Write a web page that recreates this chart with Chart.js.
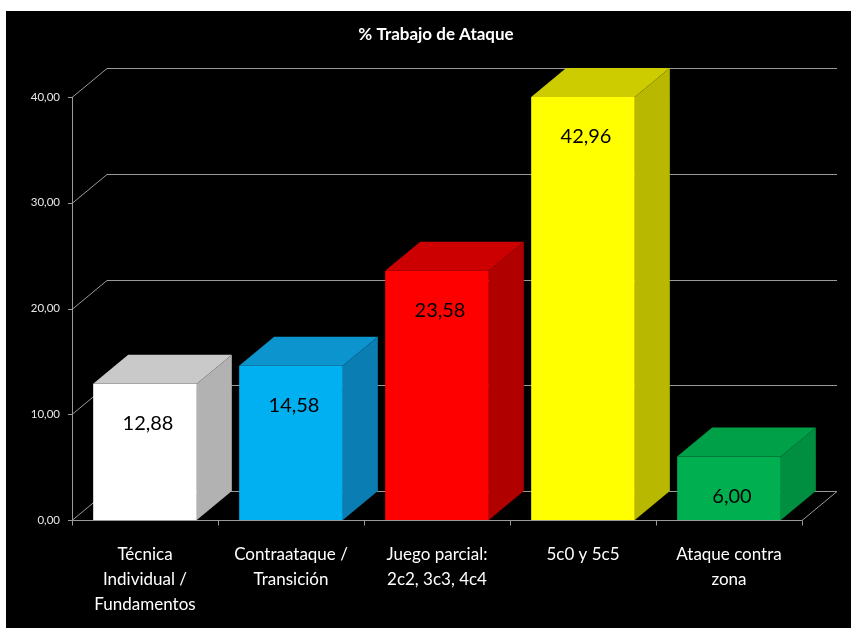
<!DOCTYPE html>
<html>
<head>
<meta charset="utf-8">
<script src="https://cdn.jsdelivr.net/npm/chart.js@4"></script>
<style>
  body { margin: 0; background: #fff; }
  #wrap { position: absolute; left: 6px; top: 11px; width: 845px; height: 617px; background: #000; }
</style>
</head>
<body>
<div id="wrap"><canvas id="chart" width="845" height="617"></canvas></div>
<script>
const categories = [
    ['Técnica', 'Individual /', 'Fundamentos'],
    ['Contraataque /', 'Transición'],
    ['Juego parcial:', '2c2, 3c3, 4c4'],
    '5c0 y 5c5',
    ['Ataque contra', 'zona']
];
const values = [12.88, 14.58, 23.58, 42.96, 6.00];
const frontColors = ['#ffffff', '#00b0f0', '#ff0000', '#ffff00', '#00b050'];
const topColors = ['#c9c9c9', '#0c94cf', '#cc0000', '#cccc00', '#00a048'];
const sideColors = ['#b2b2b2', '#0a7eb2', '#b00000', '#b8b800', '#008f40'];
const yTicks = [0, 10, 20, 30, 40];

const DX = 35, DY = -29; // depth of the fake 3D
const fmt = v => v.toFixed(2).replace('.', ',');

// back wall, left wall and floor lines
const wallPlugin = {
    id: 'walls',
    beforeDatasetsDraw(chart) {
        const ctx = chart.ctx;
        const area = chart.chartArea;
        const y = chart.scales.y;
        ctx.save();
        ctx.strokeStyle = '#9a9a9a';
        ctx.lineWidth = 1;
        yTicks.forEach(t => {
            const py = Math.round(y.getPixelForValue(t)) + 0.5;
            ctx.beginPath();
            ctx.moveTo(area.left - 4, py);
            ctx.lineTo(area.left, py);
            ctx.lineTo(area.left + DX, py + DY);
            ctx.lineTo(area.right + DX, py + DY);
            ctx.stroke();
        });
        // axis line
        ctx.beginPath();
        ctx.moveTo(area.left + 0.5, area.top);
        ctx.lineTo(area.left + 0.5, area.bottom);
        ctx.stroke();
        // floor front edge + right edge
        const by = Math.round(area.bottom) + 0.5;
        ctx.beginPath();
        ctx.moveTo(area.left, by);
        ctx.lineTo(area.right, by);
        ctx.lineTo(area.right + DX, by + DY);
        ctx.stroke();
        // category tick marks
        const step = (area.right - area.left) / categories.length;
        for (let i = 0; i <= categories.length; i++) {
            const px = Math.round(area.left + i * step) + 0.5;
            ctx.beginPath();
            ctx.moveTo(px, by);
            ctx.lineTo(px, by + 5);
            ctx.stroke();
        }
        ctx.restore();
    },
    afterDatasetsDraw(chart) {
        const ctx = chart.ctx;
        const area = chart.chartArea;
        const meta = chart.getDatasetMeta(0);
        ctx.save();
        meta.data.forEach((bar, i) => {
            const half = bar.width / 2;
            const l = bar.x - half, r = bar.x + half;
            const t = Math.max(bar.y, area.top);
            const b = bar.base;
            // top face
            ctx.fillStyle = topColors[i];
            ctx.beginPath();
            ctx.moveTo(l, t);
            ctx.lineTo(l + DX, t + DY);
            ctx.lineTo(r + DX, t + DY);
            ctx.lineTo(r, t);
            ctx.closePath();
            ctx.fill();
            // side face
            ctx.fillStyle = sideColors[i];
            ctx.beginPath();
            ctx.moveTo(r, t);
            ctx.lineTo(r + DX, t + DY);
            ctx.lineTo(r + DX, b + DY);
            ctx.lineTo(r, b);
            ctx.closePath();
            ctx.fill();
            // value label
            ctx.fillStyle = '#000';
            ctx.font = '20px Lato';
            ctx.textAlign = 'center';
            ctx.textBaseline = 'middle';
            ctx.fillText(fmt(values[i]), bar.x + 3, t + 40);
        });
        // title
        ctx.fillStyle = '#fff';
        ctx.font = 'bold 17px Lato';
        ctx.textAlign = 'center';
        ctx.textBaseline = 'middle';
        ctx.fillText('% Trabajo de Ataque', 430, 24);
        ctx.restore();
    }
};

new Chart(document.getElementById('chart'), {
    type: 'bar',
    data: {
        labels: categories,
        datasets: [{
            data: values,
            backgroundColor: frontColors,
            borderWidth: 0,
            barPercentage: 0.71,
            categoryPercentage: 1
        }]
    },
    options: {
        responsive: false,
        animation: false,
        layout: { padding: { top: 86, right: 49, left: 0, bottom: 0 } },
        plugins: { legend: { display: false }, tooltip: { enabled: false } },
        scales: {
            x: {
                grid: { display: false, drawTicks: false },
                border: { display: false },
                ticks: {
                    color: '#fff',
                    padding: 22,
                    maxRotation: 0,
                    autoSkip: false,
                    font: { family: 'Lato', size: 17, lineHeight: 1.47 }
                },
                afterFit: s => { s.height = 108; }
            },
            y: {
                min: 0,
                max: 40,
                grid: { display: false, drawTicks: false },
                border: { display: false },
                afterBuildTicks: s => { s.ticks = yTicks.map(v => ({ value: v })); },
                ticks: {
                    color: '#e6e6e6',
                    padding: 12,
                    font: { family: 'Lato', size: 11.5 },
                    callback: v => fmt(v)
                },
                afterFit: s => { s.width = 66; }
            }
        }
    },
    plugins: [wallPlugin]
});
</script>
</body>
</html>
